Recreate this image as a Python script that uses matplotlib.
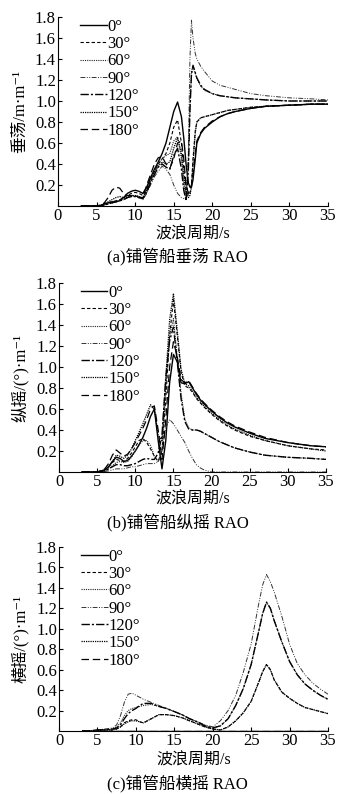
import matplotlib
matplotlib.use('Agg')
import matplotlib.pyplot as plt

plt.rcParams['font.family'] = ['Liberation Serif', 'DejaVu Serif', 'Noto Sans CJK SC']

headings = ['0°', '30°', '60°', '90°', '120°', '150°', '180°']

# ---------------- (a) heave ----------------
period_a = [3, 4, 5, 5.5, 6, 6.5, 7, 7.5, 8, 8.5, 9, 9.5, 10, 10.5, 11, 11.5, 12, 12.5,
            13, 13.5, 14, 14.5, 15, 15.5, 16, 16.3, 16.6, 16.9, 17.1, 17.3, 17.5, 17.8,
            18, 18.5, 19, 20, 21, 22, 23, 25, 27, 30, 33, 35]
heave_0 = [0, 0, 0, 0.005, 0.02, 0.03, 0.04, 0.04, 0.05, 0.08, 0.12, 0.14, 0.15, 0.14, 0.12,
           0.18, 0.27, 0.35, 0.42, 0.5, 0.6, 0.75, 0.9, 0.99, 0.85, 0.65, 0.4, 0.22, 0.18,
           0.18, 0.25, 0.45, 0.6, 0.69, 0.74, 0.8, 0.85, 0.88, 0.9, 0.93, 0.95, 0.96, 0.97, 0.97]
heave_30 = [0, 0, 0, 0.005, 0.02, 0.03, 0.04, 0.05, 0.06, 0.08, 0.1, 0.12, 0.13, 0.12, 0.1,
            0.16, 0.25, 0.33, 0.4, 0.45, 0.5, 0.6, 0.75, 0.82, 0.6, 0.35, 0.15, 0.1, 0.12,
            0.2, 0.45, 0.72, 0.8, 0.84, 0.85, 0.87, 0.89, 0.91, 0.92, 0.94, 0.95, 0.96, 0.97, 0.97]
heave_60 = [0, 0, 0, 0, 0.01, 0.02, 0.03, 0.04, 0.05, 0.07, 0.09, 0.1, 0.1, 0.09, 0.07,
            0.14, 0.24, 0.32, 0.4, 0.45, 0.48, 0.5, 0.62, 0.66, 0.45, 0.2, 0.1, 0.4, 0.95,
            1.28, 1.33, 1.26, 1.21, 1.14, 1.1, 1.07, 1.05, 1.04, 1.03, 1.02, 1.01, 1.0, 1.0, 1.0]
heave_90 = [0, 0, 0, 0, 0.01, 0.02, 0.03, 0.04, 0.05, 0.06, 0.08, 0.1, 0.1, 0.08, 0.06,
            0.12, 0.2, 0.28, 0.33, 0.38, 0.35, 0.3, 0.2, 0.12, 0.08, 0.07, 0.06, 0.5, 1.4,
            1.77, 1.6, 1.45, 1.4, 1.33, 1.28, 1.19, 1.15, 1.13, 1.11, 1.07, 1.05, 1.03, 1.02, 1.01]
heave_120 = [0, 0, 0, 0, 0.01, 0.02, 0.03, 0.04, 0.05, 0.06, 0.08, 0.09, 0.09, 0.08, 0.07,
             0.13, 0.22, 0.3, 0.37, 0.4, 0.37, 0.35, 0.48, 0.55, 0.35, 0.15, 0.05, 0.35, 0.9,
             1.25, 1.34, 1.27, 1.22, 1.15, 1.11, 1.07, 1.05, 1.04, 1.03, 1.02, 1.01, 1.0, 1.0, 1.0]
heave_150 = [0, 0, 0, 0.005, 0.02, 0.04, 0.06, 0.08, 0.09, 0.08, 0.08, 0.09, 0.1, 0.09, 0.08,
             0.15, 0.24, 0.32, 0.38, 0.42, 0.4, 0.42, 0.55, 0.65, 0.5, 0.28, 0.12, 0.08, 0.1,
             0.18, 0.4, 0.7, 0.8, 0.84, 0.85, 0.87, 0.89, 0.91, 0.92, 0.94, 0.95, 0.96, 0.97, 0.97]
heave_180 = [0, 0, 0, 0.01, 0.03, 0.08, 0.15, 0.18, 0.17, 0.12, 0.1, 0.1, 0.1, 0.08, 0.08,
             0.2, 0.3, 0.4, 0.46, 0.47, 0.4, 0.36, 0.45, 0.6, 0.62, 0.45, 0.2, 0.12, 0.15,
             0.2, 0.3, 0.5, 0.62, 0.7, 0.75, 0.81, 0.85, 0.88, 0.9, 0.93, 0.95, 0.96, 0.97, 0.97]

# ---------------- (b) pitch ----------------
period_b = [3, 4, 5, 5.5, 6, 6.5, 7, 7.5, 8, 8.5, 9, 9.5, 10, 10.5, 11, 11.5, 12, 12.5,
            13, 13.5, 14, 14.5, 15, 15.5, 16, 16.5, 17, 17.5, 18, 18.5, 19, 20, 21, 22,
            23, 25, 27, 30, 33, 35]
pitch_0 = [0, 0, 0, 0.01, 0.02, 0.05, 0.1, 0.14, 0.13, 0.1, 0.11, 0.15, 0.2, 0.26, 0.33,
           0.42, 0.53, 0.6, 0.3, 0.03, 0.3, 0.85, 1.12, 1.05, 0.85, 0.84, 0.86, 0.8, 0.74,
           0.69, 0.65, 0.58, 0.52, 0.47, 0.43, 0.37, 0.32, 0.28, 0.25, 0.24]
pitch_30 = [0, 0, 0, 0.01, 0.02, 0.05, 0.09, 0.12, 0.11, 0.1, 0.13, 0.18, 0.24, 0.3, 0.32,
            0.28, 0.22, 0.15, 0.1, 0.2, 0.7, 1.3, 1.64, 1.3, 0.95, 0.82, 0.8, 0.76, 0.7,
            0.66, 0.62, 0.55, 0.49, 0.44, 0.4, 0.34, 0.3, 0.25, 0.22, 0.21]
pitch_60 = [0, 0, 0, 0.005, 0.01, 0.03, 0.06, 0.09, 0.1, 0.09, 0.1, 0.14, 0.2, 0.26, 0.3,
            0.3, 0.25, 0.15, 0.1, 0.2, 0.8, 1.3, 1.46, 1.1, 0.75, 0.5, 0.42, 0.4, 0.4,
            0.39, 0.37, 0.33, 0.29, 0.26, 0.23, 0.19, 0.16, 0.14, 0.13, 0.12]
pitch_90 = [0, 0, 0, 0, 0.005, 0.01, 0.02, 0.03, 0.03, 0.03, 0.04, 0.05, 0.05, 0.06, 0.07,
            0.08, 0.08, 0.08, 0.1, 0.2, 0.42, 0.5, 0.46, 0.4, 0.34, 0.28, 0.2, 0.13, 0.07,
            0.04, 0.02, 0.0, 0, 0, 0, 0, 0, 0, 0, 0]
pitch_120 = [0, 0, 0, 0.005, 0.01, 0.03, 0.05, 0.07, 0.07, 0.06, 0.06, 0.07, 0.08, 0.1, 0.12,
             0.13, 0.12, 0.12, 0.18, 0.35, 0.9, 1.25, 1.38, 1.05, 0.7, 0.48, 0.41, 0.4, 0.4,
             0.39, 0.37, 0.33, 0.29, 0.26, 0.23, 0.19, 0.16, 0.14, 0.13, 0.12]
pitch_150 = [0, 0, 0, 0.01, 0.02, 0.05, 0.1, 0.16, 0.15, 0.13, 0.16, 0.22, 0.3, 0.38, 0.46,
             0.55, 0.64, 0.6, 0.35, 0.3, 0.9, 1.45, 1.7, 1.35, 0.98, 0.84, 0.82, 0.77, 0.71,
             0.67, 0.63, 0.56, 0.5, 0.45, 0.41, 0.35, 0.3, 0.25, 0.22, 0.2]
pitch_180 = [0, 0, 0, 0.01, 0.03, 0.08, 0.16, 0.21, 0.18, 0.15, 0.17, 0.22, 0.28, 0.35, 0.42,
             0.5, 0.6, 0.63, 0.4, 0.12, 0.5, 1.0, 1.24, 1.1, 0.88, 0.85, 0.87, 0.81, 0.75,
             0.7, 0.66, 0.59, 0.53, 0.48, 0.44, 0.38, 0.33, 0.28, 0.25, 0.24]

# ---------------- (c) roll ----------------
period_c = [3, 4, 5, 6, 7, 7.5, 8, 8.5, 9, 9.5, 10, 10.5, 11, 12, 13, 14, 15, 16, 17, 18,
            19, 20, 21, 22, 23, 24, 25, 26, 26.5, 27, 27.5, 28, 29, 30, 31, 32, 33, 34, 35]
roll_0 = [0, 0, 0, 0, 0, 0, 0, 0, 0, 0, 0, 0, 0, 0, 0, 0, 0, 0, 0, 0,
          0, 0, 0, 0, 0, 0, 0, 0, 0, 0, 0, 0, 0, 0, 0, 0, 0, 0, 0]
roll_30 = [0, 0, 0.01, 0.01, 0.01, 0.02, 0.04, 0.08, 0.1, 0.11, 0.11, 0.09, 0.08, 0.12, 0.16,
           0.16, 0.15, 0.13, 0.1, 0.07, 0.04, 0.02, 0.01, 0.04, 0.1, 0.18, 0.29, 0.48, 0.58,
           0.65, 0.6, 0.5, 0.38, 0.32, 0.27, 0.23, 0.21, 0.19, 0.17]
roll_60 = [0, 0, 0.01, 0.01, 0.02, 0.04, 0.08, 0.15, 0.2, 0.22, 0.23, 0.24, 0.25, 0.26, 0.24,
           0.22, 0.19, 0.16, 0.12, 0.09, 0.05, 0.03, 0.05, 0.12, 0.25, 0.42, 0.65, 0.98, 1.15,
           1.26, 1.2, 1.08, 0.87, 0.68, 0.55, 0.46, 0.4, 0.35, 0.31]
roll_90 = [0, 0, 0.01, 0.02, 0.03, 0.06, 0.15, 0.28, 0.36, 0.37, 0.35, 0.33, 0.31, 0.28, 0.25,
           0.22, 0.19, 0.16, 0.12, 0.09, 0.06, 0.04, 0.1, 0.2, 0.35, 0.58, 0.85, 1.25, 1.43,
           1.53, 1.46, 1.36, 1.12, 0.85, 0.66, 0.55, 0.47, 0.41, 0.36]
roll_120 = [0, 0, 0.01, 0.01, 0.02, 0.03, 0.06, 0.12, 0.17, 0.2, 0.22, 0.25, 0.27, 0.27, 0.24,
            0.22, 0.19, 0.16, 0.12, 0.09, 0.05, 0.03, 0.05, 0.12, 0.25, 0.42, 0.65, 0.98, 1.15,
            1.26, 1.2, 1.08, 0.87, 0.68, 0.55, 0.46, 0.4, 0.35, 0.31]
roll_150 = [0, 0, 0.01, 0.01, 0.01, 0.02, 0.04, 0.07, 0.09, 0.1, 0.1, 0.09, 0.08, 0.12, 0.16,
            0.16, 0.15, 0.13, 0.1, 0.07, 0.04, 0.02, 0.01, 0.04, 0.1, 0.18, 0.29, 0.48, 0.58,
            0.65, 0.6, 0.5, 0.38, 0.32, 0.27, 0.23, 0.21, 0.19, 0.17]
roll_180 = [0, 0, 0, 0, 0, 0, 0, 0, 0, 0, 0, 0, 0, 0, 0, 0, 0, 0, 0, 0,
            0, 0, 0, 0, 0, 0, 0, 0, 0, 0, 0, 0, 0, 0, 0, 0, 0, 0, 0]

x_ticks = [0, 5, 10, 15, 20, 25, 30, 35]
y_ticks = [0.2, 0.4, 0.6, 0.8, 1.0, 1.2, 1.4, 1.6, 1.8]

styles = [
    dict(ls='-', lw=1.0, color='black'),
    dict(ls=(0, (3, 2)), lw=0.8, color='black'),
    dict(ls=(0, (1, 1)), lw=0.8, color='#222222'),
    dict(ls=(0, (5, 1.5, 1, 1.5, 1, 1.5)), lw=0.7, color='#333333'),
    dict(ls=(0, (6, 1.5, 1.5, 1.5)), lw=1.0, color='black'),
    dict(ls=(0, (1, 0.8)), lw=0.9, color='black'),
    dict(ls=(0, (6, 3)), lw=0.9, color='black'),
]

panels = [
    dict(rect=[58/355, 1-206/794, 270/355, 189/794], x=period_a,
         ys=[heave_0, heave_30, heave_60, heave_90, heave_120, heave_150, heave_180],
         ylabel='垂荡/m·m⁻¹', caption='(a)铺管船垂荡 RAO', cap_y=256, xl_y=235),
    dict(rect=[59/355, 1-472/794, 267/355, 189/794], x=period_b,
         ys=[pitch_0, pitch_30, pitch_60, pitch_90, pitch_120, pitch_150, pitch_180],
         ylabel='纵摇/(°)·m⁻¹', caption='(b)铺管船纵摇 RAO', cap_y=522, xl_y=500),
    dict(rect=[59/355, 1-731/794, 269/355, 184/794], x=period_c,
         ys=[roll_0, roll_30, roll_60, roll_90, roll_120, roll_150, roll_180],
         ylabel='横摇/(°)·m⁻¹', caption='(c)铺管船横摇 RAO', cap_y=783, xl_y=761),
]

fig = plt.figure(figsize=(3.55, 7.94), dpi=100)

FS = 12
for p in panels:
    ax = fig.add_axes(p['rect'])
    for lab, y, st in zip(headings, p['ys'], styles):
        ax.plot(p['x'], y, label=lab, **st)
    ax.set_xlim(0, 35)
    ax.set_ylim(0, 1.8)
    ax.set_xticks(x_ticks)
    ax.set_yticks(y_ticks)
    ax.set_yticklabels([f'{v:.1f}' for v in y_ticks])
    ax.spines['top'].set_visible(False)
    ax.spines['right'].set_visible(False)
    for s in ('left', 'bottom'):
        ax.spines[s].set_linewidth(0.8)
    ax.tick_params(direction='in', length=3, width=0.8, labelsize=FS, pad=1.5)
    rect = p['rect']
    hpx = rect[3] * 794
    bottom_px = (1 - rect[1]) * 794
    ax.text(0.5, -(p['xl_y'] - bottom_px) / hpx, '波浪周期/s', transform=ax.transAxes,
            ha='center', va='center', fontsize=11.5)
    ax.text(-(rect[0] * 355 - 20) / (rect[2] * 355), 0.5, p['ylabel'], transform=ax.transAxes,
            ha='center', va='center', rotation=90, fontsize=12)
    fig.text(0.5, 1 - p['cap_y'] / 794, p['caption'], ha='center', va='center', fontsize=12)
    ax.legend(loc='upper left', bbox_to_anchor=(0.075, 1.0), frameon=False, fontsize=FS,
              handlelength=1.6, handletextpad=0.05, labelspacing=0.08, borderpad=0.1,
              borderaxespad=0)

fig.savefig('out.png', dpi=100)
